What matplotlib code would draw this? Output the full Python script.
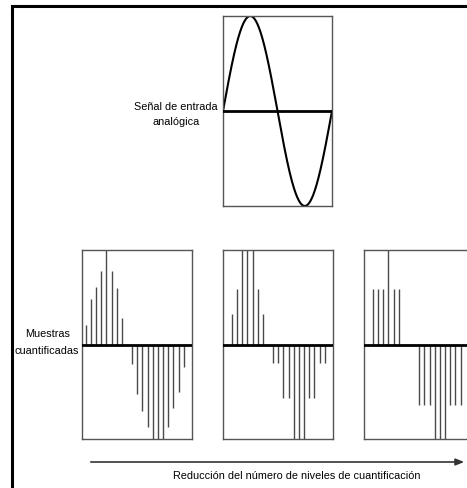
import matplotlib
matplotlib.use("Agg")
import matplotlib.pyplot as plt
from matplotlib.patches import Rectangle, FancyArrowPatch
import numpy as np

W, H = 467, 489

# quantized sample values, index 0..19 (0 = no stem)
muestras_1 = [0.21, 0.48, 0.61, 0.78, 1.0, 0.78, 0.60, 0.28, 0.0,
              -0.21, -0.52, -0.70, -0.87, -1.0, -1.0, -1.0, -0.87, -0.67, -0.50, -0.24]
muestras_2 = [0.0, 0.32, 0.59, 1.0, 1.0, 1.0, 0.59, 0.32, 0.0,
              -0.20, -0.20, -0.57, -0.57, -1.0, -1.0, -1.0, -0.57, -0.57, -0.20, -0.20]
muestras_3 = [0.0, 0.59, 0.59, 0.59, 1.0, 0.59, 0.59, 0.0, 0.0,
              0.0, -0.64, -0.64, -0.64, -1.0, -1.0, -1.0, -0.64, -0.64, -0.64, 0.0]

texto_entrada = ["Señal de entrada", "analógica"]
texto_muestras = ["Muestras", "cuantificadas"]
texto_eje = "Reducción del número de niveles de cuantificación"

FONT = ['Liberation Sans', 'DejaVu Sans']
FS = 7.8
BOX = '#555555'
STEM = '#4a4a4a'


def fx(px):
    return px / W


def fy(py):
    return 1 - py / H


def panel(fig, left, top, width, height):
    ax = fig.add_axes([fx(left), fy(top + height), width / W, height / H])
    ax.set_xticks([])
    ax.set_yticks([])
    for s in ax.spines.values():
        s.set_color(BOX)
        s.set_linewidth(1.0)
    ax.set_ylim(-1, 1)
    ax.axhline(0, color='black', lw=2.0, zorder=3)
    return ax


def main():
    fig = plt.figure(figsize=(W / 100, H / 100), dpi=100)
    fig.patch.set_facecolor('white')

    # outer frame, cut by the image edges
    fig.patches.append(Rectangle((fx(11.5), fy(600)), 1.0, fy(7) - fy(600),
                                 transform=fig.transFigure, fill=False,
                                 edgecolor='black', linewidth=2.2))

    # analog input
    ax = panel(fig, 223, 17, 109, 190)
    t = np.linspace(0, 1, 400)
    ax.plot(t, np.sin(2 * np.pi * t), color='black', lw=1.5)
    ax.set_xlim(0, 1.0)
    ax.set_ylim(-1.0, 1.0)
    fig.text(fx(176), fy(107), texto_entrada[0], ha='center', va='center',
             fontsize=FS, family=FONT)
    fig.text(fx(176), fy(122), texto_entrada[1], ha='center', va='center',
             fontsize=FS, family=FONT)

    # quantized samples
    k = np.arange(20)
    for left, vals in zip([82, 223, 364], [muestras_1, muestras_2, muestras_3]):
        ax = panel(fig, left, 251, 110, 189)
        v = np.array(vals)
        m = v != 0
        ax.vlines(k[m], 0, v[m], color=STEM, lw=1.0)
        ax.set_xlim(-0.72, 20.6)
        ax.set_ylim(-1.0, 1.0)

    fig.text(fx(48), fy(334), texto_muestras[0], ha='center', va='center',
             fontsize=FS, family=FONT)
    fig.text(fx(47), fy(351), texto_muestras[1], ha='center', va='center',
             fontsize=FS, family=FONT)

    # arrow
    fig.add_artist(FancyArrowPatch(
        (fx(88), fy(463)), (fx(467), fy(463)), transform=fig.transFigure,
        arrowstyle='-|>,head_length=5,head_width=2', mutation_scale=1,
        color='#333333', lw=1.2))
    fig.text(fx(297), fy(476), texto_eje, ha='center', va='center',
             fontsize=FS, family=FONT)

    fig.savefig('out.png', dpi=100, facecolor='white')


if __name__ == '__main__':
    main()
